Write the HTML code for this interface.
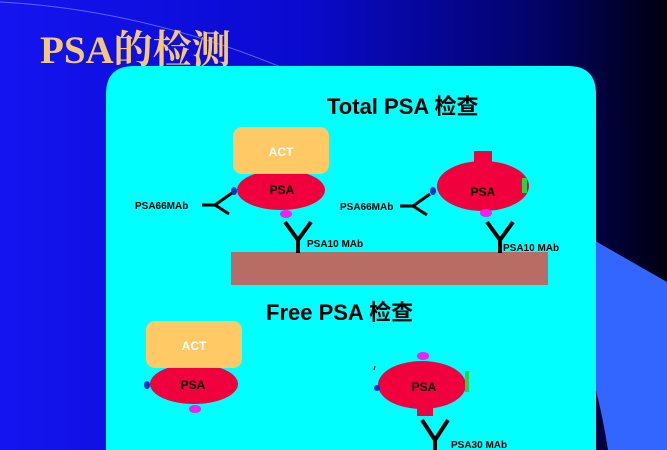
<!DOCTYPE html>
<html><head><meta charset="utf-8"><style>
html,body{margin:0;padding:0;width:667px;height:450px;overflow:hidden;background:#000}
svg{display:block}
text{font-family:"Liberation Sans","Noto Sans CJK SC",sans-serif;font-weight:bold}
</style></head><body>
<svg width="667" height="450" viewBox="0 0 667 450">
<defs>
<linearGradient id="bg" x1="0" y1="0" x2="1" y2="0">
<stop offset="0" stop-color="#1414f0"/><stop offset="0.45" stop-color="#0a0ad0"/><stop offset="0.8" stop-color="#03036a"/><stop offset="1" stop-color="#000010"/>
</linearGradient>
</defs>
<rect width="667" height="450" fill="url(#bg)"/>
<path d="M590 238 L667 282 L667 450 L608 450 Q600 400 590 370 Z" fill="#3366ff"/>
<path d="M0 2 Q150 10 300 75" stroke="#8a9cff" stroke-width="1" fill="none" opacity="0.6"/>
<text x="40" y="63" font-size="39" fill="#f5c77a" style="font-family:'Liberation Serif','Noto Serif CJK SC',serif">PSA的检测</text>
<path d="M106 450 L106 94 Q106 66 134 66 L568 66 Q596 66 596 94 L596 450 Z" fill="#00ffff"/>
<text x="327" y="114" font-size="22" fill="#000">Total PSA 检查</text>
<!-- left total -->
<ellipse cx="281" cy="190" rx="44" ry="20" fill="#f0003c"/>
<rect x="233" y="127" width="96" height="47" rx="9" fill="#ffc966"/>
<text x="281" y="156" font-size="12" fill="#fff" text-anchor="middle">ACT</text>
<text x="282" y="194" font-size="12" fill="#000" text-anchor="middle">PSA</text>
<ellipse cx="234" cy="191" rx="3" ry="4" fill="#0033cc"/>
<ellipse cx="286" cy="214" rx="6" ry="4" fill="#ee22ee"/>
<path d="M202 205 L215 205 L232 193 M215 205 L229 214" stroke="#000" stroke-width="3" fill="none"/>
<text x="135" y="209" font-size="10" fill="#000">PSA66MAb</text>
<rect x="231" y="252" width="317" height="33" fill="#b86c66"/>
<path d="M285 222 L298 240 L311 222 M298 240 L298 253" stroke="#000" stroke-width="4" fill="none"/>
<text x="307" y="247" font-size="10" fill="#000">PSA10 MAb</text>
<!-- right total -->
<rect x="474" y="151" width="18" height="11" fill="#f0003c"/>
<ellipse cx="483" cy="186" rx="46" ry="25" fill="#f0003c"/>
<rect x="522" y="178" width="5" height="15" fill="#33cc44"/>
<text x="483" y="196" font-size="12" fill="#000" text-anchor="middle">PSA</text>
<ellipse cx="433" cy="191" rx="3" ry="4" fill="#0033cc"/>
<ellipse cx="486" cy="213" rx="6" ry="4" fill="#ee22ee"/>
<path d="M400 206 L413 206 L430 194 M413 206 L427 215" stroke="#000" stroke-width="3" fill="none"/>
<text x="340" y="210" font-size="10" fill="#000">PSA66MAb</text>
<path d="M487 222 L500 240 L513 222 M500 240 L500 253" stroke="#000" stroke-width="4" fill="none"/>
<text x="503" y="251" font-size="10" fill="#000">PSA10 MAb</text>
<!-- free -->
<text x="266" y="320" font-size="22" fill="#000">Free PSA 检查</text>
<ellipse cx="194" cy="384" rx="44" ry="20" fill="#f0003c"/>
<rect x="146" y="321" width="96" height="47" rx="9" fill="#ffc966"/>
<text x="194" y="350" font-size="12" fill="#fff" text-anchor="middle">ACT</text>
<text x="193" y="389" font-size="12" fill="#000" text-anchor="middle">PSA</text>
<ellipse cx="147" cy="385" rx="3" ry="4" fill="#0033cc"/>
<ellipse cx="195" cy="409" rx="6" ry="4" fill="#ee22ee"/>
<ellipse cx="423" cy="356" rx="6" ry="4" fill="#ee22ee"/>
<rect x="417" y="403" width="16" height="13" fill="#f0003c"/>
<ellipse cx="422" cy="385" rx="44" ry="24" fill="#f0003c"/>
<rect x="465" y="371" width="4" height="21" fill="#33cc44"/>
<text x="424" y="391" font-size="12" fill="#000" text-anchor="middle">PSA</text>
<ellipse cx="377" cy="388" rx="3" ry="3" fill="#0033cc"/>
<path d="M375 366 L374 370" stroke="#000" stroke-width="1"/>
<path d="M422 420 L435 440 L448 420 M435 440 L435 450" stroke="#000" stroke-width="4" fill="none"/>
<text x="451" y="448" font-size="10" fill="#000">PSA30 MAb</text>
</svg>
</body></html>
